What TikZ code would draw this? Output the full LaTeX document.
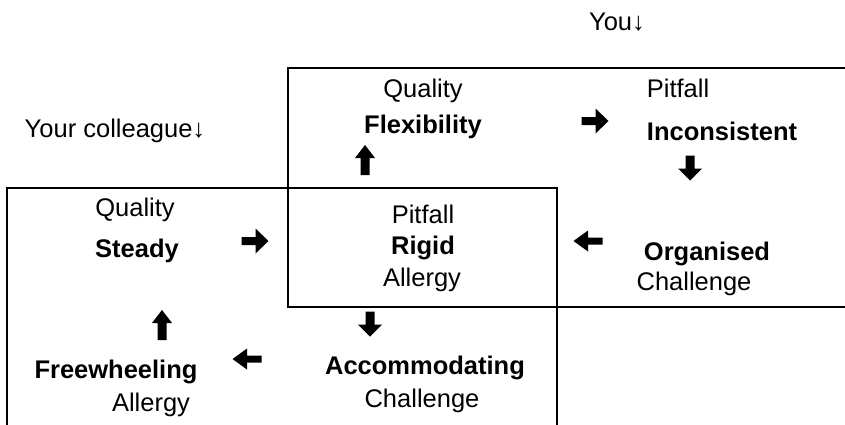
\documentclass[tikz,border=0pt]{standalone}
\usepackage{fontspec}
\setmainfont{Liberation Sans}
\begin{document}
\begin{tikzpicture}[x=1pt,y=-1pt,
  lbl/.style={anchor=base,inner sep=0pt,font=\fontsize{25.5}{30}\selectfont},
  key/.style={lbl,font=\fontsize{25.5}{30}\selectfont\bfseries},
  frame/.style={line width=2pt,black},
  arrowR/.pic={\fill (-13.5,-4) -- (0.5,-4) -- (0.5,-12.5) -- (13.5,0) -- (0.5,12.5) -- (0.5,4) -- (-13.5,4) -- cycle;},
  arrowL/.pic={\fill (14.5,-3.5) -- (0,-3.5) -- (0,-10.5) -- (-14.5,0) -- (0,10.5) -- (0,3.5) -- (14.5,3.5) -- cycle;},
  arrowU/.pic={\fill (-4.5,15) -- (-4.5,-2) -- (-10,-2) -- (0,-15) -- (10,-2) -- (4.5,-2) -- (4.5,15) -- cycle;},
  arrowD/.pic={\fill (-4.5,-12.5) -- (-4.5,0.5) -- (-12,0.5) -- (0,12.5) -- (12,0.5) -- (4.5,0.5) -- (4.5,-12.5) -- cycle;}]
\useasboundingbox (0,0) rectangle (845,424);
\clip (0,0) rectangle (845,424);

% the two overlapping squares
\draw[frame] (850,68) -- (288,68) -- (288,307) -- (850,307);
\draw[frame] (7,430) -- (7,188) -- (557,188) -- (557,430);

% headings
\node[lbl] (you) at (617,30) {You↓};
\node[lbl] (colleague) at (115,137) {Your colleague↓};

% your quadrant
\node[lbl] (q1) at (423,97) {Quality};
\node[key] (flex) at (423,133) {Flexibility};
\node[lbl] (p1) at (678,97) {Pitfall};
\node[key] (incons) at (722,140) {Inconsistent};
\node[key] (organ) at (707,260) {Organised};
\node[lbl] (c1) at (694,290) {Challenge};

% shared square
\node[lbl] (p2) at (423,223) {Pitfall};
\node[key] (rigid) at (423,254) {Rigid};
\node[lbl] (a2) at (422,286) {Allergy};

% colleague's quadrant
\node[lbl] (q2) at (135,216) {Quality};
\node[key] (steady) at (137,257) {Steady};
\node[key] (free) at (116,378) {Freewheeling};
\node[lbl] (a1) at (151,411) {Allergy};
\node[key] (accom) at (425,374) {Accommodating};
\node[lbl] (c2) at (422,407) {Challenge};

% block arrows of the two cycles
\pic at (365,160) {arrowU};
\pic at (595,121) {arrowR};
\pic at (690,168) {arrowD};
\pic at (588,241) {arrowL};
\pic at (255,241) {arrowR};
\pic at (370,324) {arrowD};
\pic at (247,359) {arrowL};
\pic at (162,325) {arrowU};
\end{tikzpicture}
\end{document}
